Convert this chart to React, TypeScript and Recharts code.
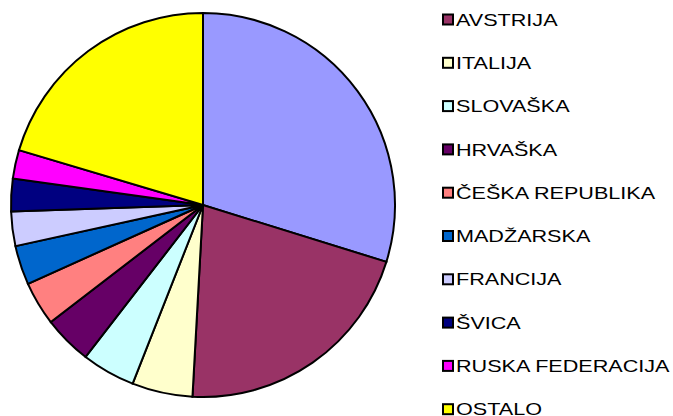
import { PieChart, Pie, Cell } from 'recharts'

// share by country (%)
const countries = [
  'NEMČIJA', 'AVSTRIJA', 'ITALIJA', 'SLOVAŠKA', 'HRVAŠKA', 'ČEŠKA REPUBLIKA',
  'MADŽARSKA', 'FRANCIJA', 'ŠVICA', 'RUSKA FEDERACIJA', 'OSTALO',
]
const shares = [29.8, 21.1, 5.1, 4.5, 4.1, 3.7, 3.3, 2.9, 2.75, 2.4, 20.4]
const colors = [
  '#9999FF', '#993366', '#FFFFCC', '#CCFFFF', '#660066', '#FF8080',
  '#0066CC', '#CCCCFF', '#000080', '#FF00FF', '#FFFF00',
]

const data = countries.map((name, i) => ({ name, value: shares[i] }))

// legend in the original starts at the 2nd entry (first one is cut off)
const legendItems = countries.map((name, i) => ({ name, color: colors[i] })).slice(1)

const App = () => {
  return (
    <div style={{ position: 'absolute', left: 0, top: 0, width: 673, height: 416, background: '#fff' }}>
      <PieChart width={673} height={416} margin={{ top: 0, right: 0, bottom: 0, left: 0 }}>
        <Pie
          data={data}
          dataKey="value"
          nameKey="name"
          cx={203}
          cy={205}
          outerRadius={192}
          startAngle={90}
          endAngle={-270}
          stroke="#000"
          strokeWidth={2}
          isAnimationActive={false}
        >
          {data.map((d, i) => (
            <Cell key={d.name} fill={colors[i]} />
          ))}
        </Pie>
      </PieChart>
      <svg
        width={232}
        height={416}
        style={{ position: 'absolute', left: 441, top: 0 }}
      >
        {legendItems.map((item, i) => {
          const cy = 19.5 + i * 43.3
          return (
            <g key={item.name}>
              <rect x={2} y={cy - 5} width={10} height={10} fill={item.color} stroke="#000" strokeWidth={2} />
              <text
                x={0}
                y={0}
                transform={`translate(15 ${cy + 6.1}) scale(1.27 1)`}
                fontFamily="Arial, 'Liberation Sans', sans-serif"
                fontSize={17}
                fill="#000"
              >
                {item.name}
              </text>
            </g>
          )
        })}
      </svg>
    </div>
  )
}

export default App
